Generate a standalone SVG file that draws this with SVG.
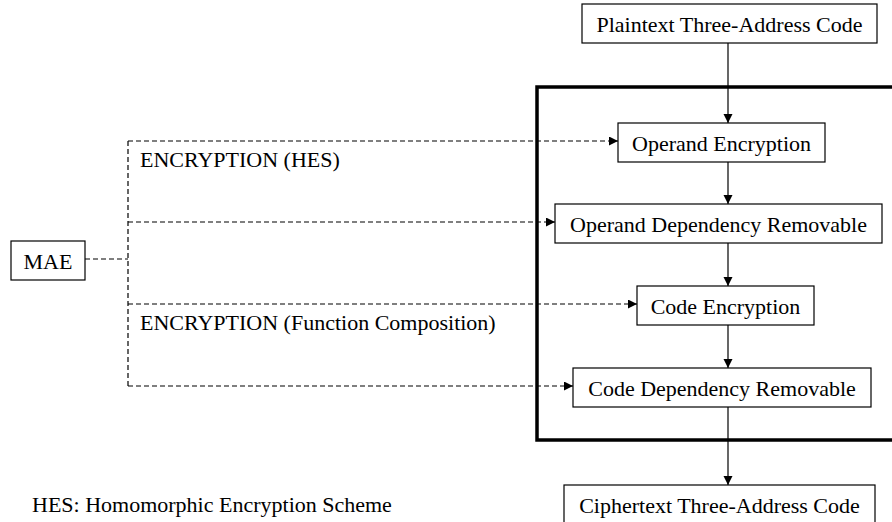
<svg xmlns="http://www.w3.org/2000/svg" width="892" height="522" viewBox="0 0 892 522">
  <defs>
    <style>
      .box { fill: #fff; stroke: #000; stroke-width: 1.2; }
      .lbl { font-family: "Liberation Serif", "Times New Roman", serif; font-size: 22px; fill: #000; }
      .mid { text-anchor: middle; }
      .flow { stroke: #000; stroke-width: 1.2; fill: none; }
      .dash { stroke: #000; stroke-width: 1.2; fill: none; stroke-dasharray: 5 3; }
      .frame { fill: none; stroke: #000; stroke-width: 3.5; }
    </style>
    <marker id="tip" markerWidth="10" markerHeight="10" refX="9" refY="4.5" orient="auto" markerUnits="userSpaceOnUse">
      <path d="M0,0 L9,4.5 L0,9 Z" fill="#000"/>
    </marker>
  </defs>
  <rect width="892" height="522" fill="#fff"/>

  <!-- pipeline frame -->
  <rect class="frame" x="537" y="87" width="370" height="353"/>

  <!-- connectors -->
  <g id="connectors">
    <line class="flow" x1="728" y1="43" x2="728" y2="123" marker-end="url(#tip)"/>
    <line class="flow" x1="728" y1="162" x2="728" y2="204" marker-end="url(#tip)"/>
    <line class="flow" x1="728" y1="243" x2="728" y2="286" marker-end="url(#tip)"/>
    <line class="flow" x1="728" y1="325" x2="728" y2="368" marker-end="url(#tip)"/>
    <line class="flow" x1="728" y1="407" x2="728" y2="485" marker-end="url(#tip)"/>

    <line class="dash" x1="85" y1="259" x2="128" y2="259"/>
    <line class="dash" x1="128" y1="141" x2="128" y2="386"/>
    <line class="dash" x1="128" y1="141" x2="618" y2="141" marker-end="url(#tip)"/>
    <line class="dash" x1="128" y1="222" x2="555" y2="222" marker-end="url(#tip)"/>
    <line class="dash" x1="128" y1="304" x2="637" y2="304" marker-end="url(#tip)"/>
    <line class="dash" x1="128" y1="386" x2="573" y2="386" marker-end="url(#tip)"/>
  </g>

  <g id="plaintext">
    <rect class="box" x="582" y="4" width="295" height="39"/>
    <text class="lbl mid" x="729.5" y="32">Plaintext Three-Address Code</text>
  </g>
  <g id="operand-encryption">
    <rect class="box" x="618" y="123" width="207" height="39"/>
    <text class="lbl mid" x="721.5" y="151">Operand Encryption</text>
  </g>
  <g id="operand-dependency">
    <rect class="box" x="555" y="204" width="327" height="39"/>
    <text class="lbl mid" x="718.5" y="232">Operand Dependency Removable</text>
  </g>
  <g id="code-encryption">
    <rect class="box" x="637" y="286" width="177" height="39"/>
    <text class="lbl mid" x="725.5" y="314">Code Encryption</text>
  </g>
  <g id="code-dependency">
    <rect class="box" x="573" y="368" width="298" height="39"/>
    <text class="lbl mid" x="722" y="396">Code Dependency Removable</text>
  </g>
  <g id="ciphertext">
    <rect class="box" x="564" y="485" width="311" height="45"/>
    <text class="lbl mid" x="719.5" y="513">Ciphertext Three-Address Code</text>
  </g>
  <g id="mae">
    <rect class="box" x="11" y="241" width="74" height="39"/>
    <text class="lbl mid" x="48" y="269">MAE</text>
  </g>

  <text class="lbl" x="140" y="167">ENCRYPTION (HES)</text>
  <text class="lbl" x="140" y="330">ENCRYPTION (Function Composition)</text>
  <text class="lbl" x="32" y="512">HES: Homomorphic Encryption Scheme</text>
</svg>
